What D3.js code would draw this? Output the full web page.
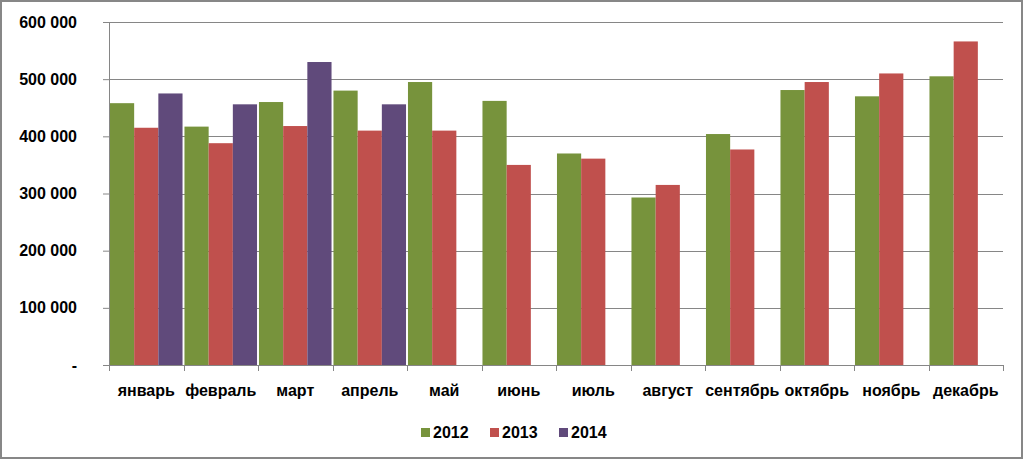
<!DOCTYPE html>
<html lang="ru">
<head>
<meta charset="UTF-8">
<title>Bar chart</title>
<style>
  body { margin: 0; background: #fff; }
  text { font-family: "Liberation Sans", Arial, sans-serif; font-weight: bold; fill: #000; }
</style>
</head>
<body>
<div id="chart"></div>
<script src="https://d3js.org/d3.v7.min.js"></script>
<script>
// data
var months = ["январь", "февраль", "март", "апрель", "май", "июнь", "июль", "август", "сентябрь", "октябрь", "ноябрь", "декабрь"];
var years = ["2012", "2013", "2014"];
var colors = ["#77933C", "#C0504D", "#604A7B"];
var values2012 = [458000, 417000, 460000, 480000, 495000, 462000, 370000, 293000, 404000, 481000, 470000, 505000];
var values2013 = [415000, 388000, 418000, 410000, 410000, 350000, 361000, 315000, 377000, 495000, 510000, 566000];
var values2014 = [475000, 456000, 530000, 456000];
var yTicks = [0, 100000, 200000, 300000, 400000, 500000, 600000];

var series = [values2012, values2013, values2014];

var W = 1024, H = 460;
var margin = { top: 22, right: 21, bottom: 95, left: 109 };
var width = W - margin.left - margin.right,
    height = H - margin.top - margin.bottom;

var svg = d3.select("#chart").append("svg")
    .attr("width", W).attr("height", H);

// outer frame
svg.append("rect")
    .attr("x", 1).attr("y", 1).attr("width", W - 3).attr("height", H - 3)
    .attr("fill", "#fff").attr("stroke", "#878787").attr("stroke-width", 2);

var g = svg.append("g")
    .attr("transform", "translate(" + margin.left + "," + margin.top + ")");

var x = d3.scaleBand().domain(months).range([0, width]).paddingInner(0).paddingOuter(0);
var xs = d3.scaleBand().domain(years).range([0, x.bandwidth()]).paddingInner(0).paddingOuter(0.04);
var y = d3.scaleLinear().domain([0, 600000]).range([height, 0]);

var fmt = function (v) { return v === 0 ? "-" : d3.format(",")(v).replace(/,/g, " "); };

// gridlines
g.selectAll(".grid").data(yTicks.filter(function (d) { return d > 0; }))
  .enter().append("line")
    .attr("x1", 0).attr("x2", width)
    .attr("y1", function (d) { return Math.round(y(d)) + 0.5; })
    .attr("y2", function (d) { return Math.round(y(d)) + 0.5; })
    .attr("stroke", "#868686").attr("stroke-width", 1);

// bars
series.forEach(function (vals, si) {
  g.selectAll(".bar" + si).data(vals)
    .enter().append("rect")
      .attr("x", function (d, i) { return x(months[i]) + xs(years[si]); })
      .attr("y", function (d) { return y(d); })
      .attr("width", xs.bandwidth())
      .attr("height", function (d) { return height - y(d); })
      .attr("fill", colors[si]);
});

// y axis
var yAxis = g.append("g")
    .call(d3.axisLeft(y).tickValues(yTicks).tickFormat(fmt).tickSize(6).tickPadding(26));
yAxis.select(".domain").attr("stroke", "#868686");
yAxis.selectAll(".tick line").attr("stroke", "#868686");
yAxis.selectAll("text").style("font-size", "16px").attr("fill", "#000");

// x axis
var xAxis = g.append("g")
    .attr("transform", "translate(0," + height + ")")
    .call(d3.axisBottom(x).tickSize(0).tickPadding(20));
xAxis.select(".domain").attr("stroke", "#868686");
xAxis.selectAll("text").style("font-size", "16px").attr("fill", "#000");
xAxis.selectAll(".sep").data(d3.range(13))
  .enter().append("line")
    .attr("x1", function (d) { return Math.round(d * x.step()) + 0.5; })
    .attr("x2", function (d) { return Math.round(d * x.step()) + 0.5; })
    .attr("y1", 0).attr("y2", 6)
    .attr("stroke", "#868686");

// legend
var legendX = [421, 490, 559];
var legend = svg.append("g").attr("transform", "translate(0,432)");
years.forEach(function (yr, i) {
  legend.append("rect")
    .attr("x", legendX[i]).attr("y", -4).attr("width", 9).attr("height", 9)
    .attr("fill", colors[i]);
  legend.append("text")
    .attr("x", legendX[i] + 12).attr("y", 0)
    .attr("dy", "0.35em")
    .style("font-size", "16px")
    .text(yr);
});
</script>
</body>
</html>
